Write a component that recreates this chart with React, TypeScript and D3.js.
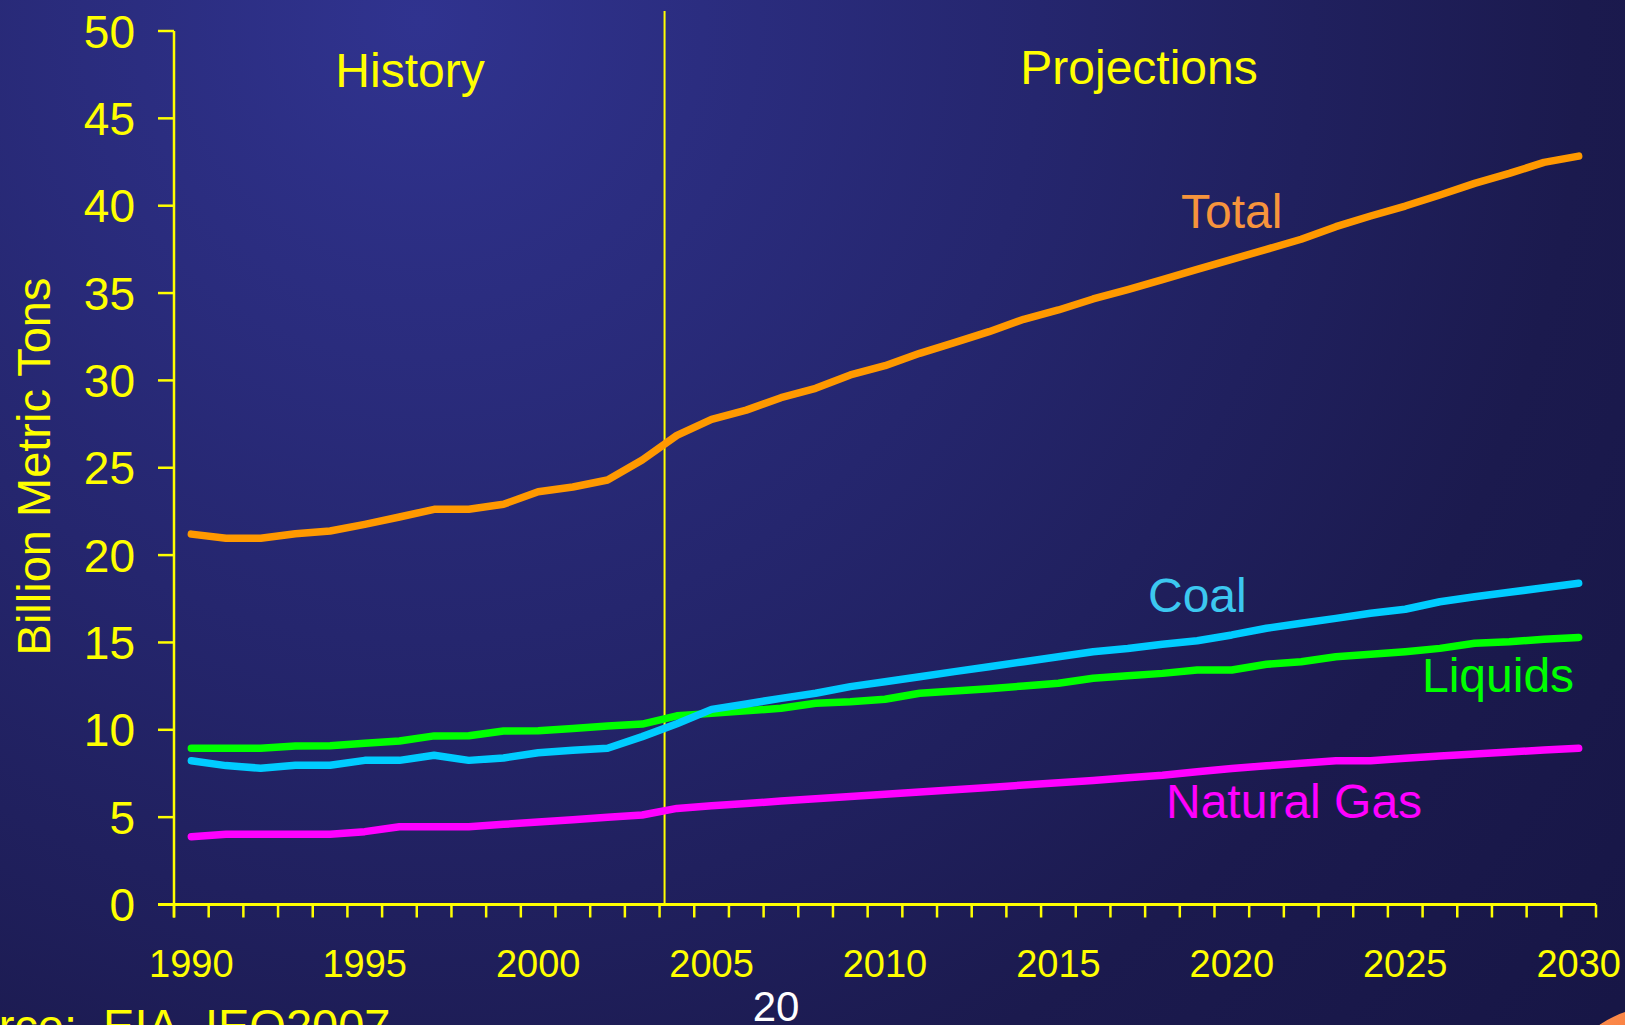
import React from "react";
import * as d3 from "d3";

const years: number[] = d3.range(1990, 2031);
const xTickLabels: number[] = [1990, 1995, 2000, 2005, 2010, 2015, 2020, 2025, 2030];
const yTicks: number[] = [0, 5, 10, 15, 20, 25, 30, 35, 40, 45, 50];

const total: number[] = [
  21.2, 20.96, 20.96, 21.22, 21.38, 21.76, 22.18, 22.62, 22.62, 22.91, 23.63, 23.9, 24.3, 25.44,
  26.85, 27.77, 28.3, 29.01, 29.55, 30.31, 30.84, 31.55, 32.16, 32.79, 33.5, 34.03, 34.66, 35.2,
  35.77, 36.36, 36.93, 37.5, 38.08, 38.8, 39.41, 39.98, 40.61, 41.28, 41.85, 42.48, 42.84,
];
const coal: number[] = [
  8.23, 7.95, 7.8, 7.97, 7.97, 8.25, 8.25, 8.54, 8.25, 8.39, 8.69, 8.83, 8.94, 9.61, 10.35, 11.17,
  11.48, 11.8, 12.09, 12.47, 12.75, 13.04, 13.33, 13.61, 13.9, 14.18, 14.47, 14.65, 14.9, 15.1,
  15.43, 15.81, 16.1, 16.38, 16.67, 16.9, 17.33, 17.62, 17.87, 18.13, 18.39,
];
const liquids: number[] = [
  8.94, 8.94, 8.94, 9.07, 9.09, 9.23, 9.36, 9.65, 9.66, 9.93, 9.95, 10.08, 10.22, 10.33, 10.8,
  10.94, 11.09, 11.23, 11.52, 11.61, 11.75, 12.09, 12.22, 12.35, 12.51, 12.66, 12.95, 13.1, 13.23,
  13.42, 13.42, 13.75, 13.9, 14.18, 14.32, 14.47, 14.66, 14.95, 15.04, 15.18, 15.29,
];
const naturalGas: number[] = [
  3.88, 4.02, 4.02, 4.02, 4.02, 4.17, 4.45, 4.45, 4.45, 4.59, 4.72, 4.85, 4.99, 5.12, 5.5, 5.65,
  5.78, 5.92, 6.05, 6.18, 6.31, 6.44, 6.57, 6.7, 6.84, 6.97, 7.1, 7.25, 7.4, 7.6, 7.78, 7.94, 8.08,
  8.23, 8.23, 8.37, 8.5, 8.61, 8.73, 8.84, 8.94,
];

const seriesNames = ["Total", "Coal", "Liquids", "Natural Gas"];
const seriesData = [total, coal, liquids, naturalGas];
const lineColors = ["#ff9900", "#00ccff", "#00ff00", "#ff00ff"];
const labelColors = ["#f7943c", "#3cc8f0", "#00ff00", "#ff00ff"];
const labelPos = [
  { x: 1181, y: 228 },
  { x: 1148, y: 612 },
  { x: 1422, y: 692 },
  { x: 1166, y: 818 },
];

const W = 1625;
const H = 1025;
const FONT = "'Liberation Sans', Arial, Helvetica, sans-serif";
const YELLOW = "#ffff00";

export default function App() {
  const x = d3.scaleBand<number>().domain(years).range([174, 1596]).padding(0);
  const y = d3.scaleLinear().domain([0, 50]).range([904.5, 31]);
  const cx = (yr: number) => (x(yr) as number) + x.bandwidth() / 2;
  const line = d3
    .line<number>()
    .x((_, i) => cx(years[i]))
    .y((v) => y(v))
    .curve(d3.curveLinear);

  const boundaries = d3.range(0, years.length + 1).map((i) => 174 + i * x.bandwidth());
  const splitX = (x(2004) as number) + 5;

  return (
    <svg
      width={W}
      height={H}
      viewBox={`0 0 ${W} ${H}`}
      style={{ position: "absolute", left: 0, top: 0, display: "block" }}
      fontFamily={FONT}
    >
      <defs>
        <radialGradient id="bg" cx="420" cy="20" r="1550" gradientUnits="userSpaceOnUse">
          <stop offset="0" stopColor="#30338f" />
          <stop offset="0.4" stopColor="#25266e" />
          <stop offset="0.75" stopColor="#1b1a4e" />
          <stop offset="1" stopColor="#171646" />
        </radialGradient>
        <linearGradient id="logo" x1="0" y1="0" x2="1" y2="1">
          <stop offset="0" stopColor="#ff9a50" />
          <stop offset="1" stopColor="#e83020" />
        </linearGradient>
      </defs>
      <rect x={0} y={0} width={W} height={H} fill="url(#bg)" />
      <circle cx={1660} cy={1112} r={106} fill="url(#logo)" />

      {/* split line */}
      <line x1={splitX} x2={splitX} y1={11} y2={y(0)} stroke={YELLOW} strokeWidth={2} />

      {/* y axis */}
      <line x1={174} x2={174} y1={y(50)} y2={y(0) + 13} stroke={YELLOW} strokeWidth={2.5} />
      {yTicks.map((t) => (
        <g key={t}>
          <line x1={158} x2={174} y1={y(t)} y2={y(t)} stroke={YELLOW} strokeWidth={2.5} />
          <text x={135} y={y(t) + 16.5} fill={YELLOW} fontSize={46} textAnchor="end">
            {t}
          </text>
        </g>
      ))}

      {/* x axis */}
      <line x1={158} x2={1596} y1={y(0)} y2={y(0)} stroke={YELLOW} strokeWidth={3} />
      {boundaries.map((b, i) => (
        <line key={i} x1={b} x2={b} y1={y(0)} y2={y(0) + 13} stroke={YELLOW} strokeWidth={2.5} />
      ))}
      {xTickLabels.map((t) => (
        <text key={t} x={cx(t)} y={977} fill={YELLOW} fontSize={38} textAnchor="middle">
          {t}
        </text>
      ))}

      {/* y axis title */}
      <text
        transform={`translate(50,466.5) rotate(-90)`}
        fill={YELLOW}
        fontSize={47}
        textAnchor="middle"
      >
        Billion Metric Tons
      </text>

      {/* section labels */}
      <text x={410} y={87} fill={YELLOW} fontSize={48} textAnchor="middle">
        History
      </text>
      <text x={1139} y={84} fill={YELLOW} fontSize={48} textAnchor="middle">
        Projections
      </text>

      {/* series lines */}
      {[3, 2, 1, 0].map((si) => (
        <path
          key={seriesNames[si]}
          d={line(seriesData[si]) || ""}
          fill="none"
          stroke={lineColors[si]}
          strokeWidth={7.5}
          strokeLinejoin="round"
          strokeLinecap="round"
        />
      ))}

      {/* series labels */}
      {seriesNames.map((n, i) => (
        <text key={n} x={labelPos[i].x} y={labelPos[i].y} fill={labelColors[i]} fontSize={48}>
          {n}
        </text>
      ))}

      {/* page number and source */}
      <text x={776} y={1021} fill="#ffffff" fontSize={42} textAnchor="middle">
        20
      </text>
      <text x={-85} y={1042} fill={YELLOW} fontSize={47} xmlSpace="preserve">
        {"Source:  EIA, IEO2007"}
      </text>
    </svg>
  );
}
